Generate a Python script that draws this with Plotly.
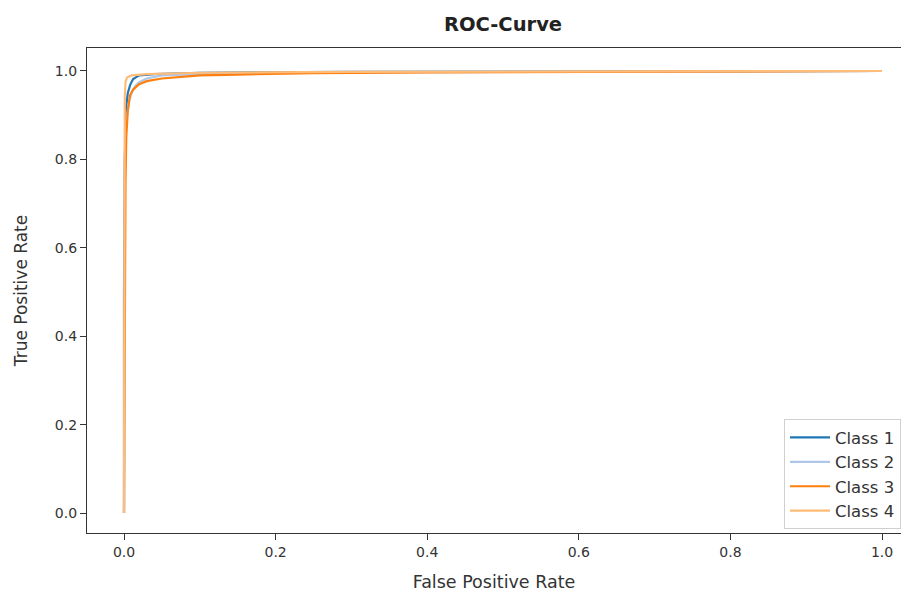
import plotly.graph_objects as go

class_names = ["Class 1", "Class 2", "Class 3", "Class 4"]
colors = ["#1f77b4", "#aec7e8", "#ff7f0e", "#ffbb78"]

fpr_1 = [0, 0.0, 0.001, 0.002, 0.003, 0.005, 0.008, 0.012, 0.02, 0.04, 0.1, 0.3, 0.5, 1.0]
tpr_1 = [0, 0.5, 0.8, 0.88, 0.92, 0.95, 0.968, 0.982, 0.99, 0.993, 0.996, 0.998, 0.999, 1.0]

fpr_2 = [0, 0.0005, 0.001, 0.002, 0.004, 0.007, 0.01, 0.015, 0.02, 0.03, 0.05, 0.1, 0.3, 1.0]
tpr_2 = [0, 0.5, 0.75, 0.85, 0.9, 0.935, 0.95, 0.966, 0.975, 0.983, 0.99, 0.993, 0.997, 1.0]

fpr_3 = [0, 0.001, 0.002, 0.003, 0.005, 0.008, 0.012, 0.02, 0.03, 0.05, 0.075, 0.1, 0.15, 0.25, 0.4, 0.6, 1.0]
tpr_3 = [0, 0.5, 0.75, 0.85, 0.91, 0.945, 0.958, 0.97, 0.977, 0.983, 0.987, 0.99, 0.992, 0.995, 0.997, 0.998, 1.0]

fpr_4 = [0, 0.0003, 0.001, 0.002, 0.004, 0.01, 0.03, 0.1, 0.3, 1.0]
tpr_4 = [0, 0.6, 0.94, 0.975, 0.985, 0.99, 0.993, 0.996, 0.998, 1.0]

fprs = [fpr_1, fpr_2, fpr_3, fpr_4]
tprs = [tpr_1, tpr_2, tpr_3, tpr_4]

x_ticks = [0.0, 0.2, 0.4, 0.6, 0.8, 1.0]
y_ticks = [0.0, 0.2, 0.4, 0.6, 0.8, 1.0]

fig = go.Figure()
for name, c, fx, ty in zip(class_names, colors, fprs, tprs):
    fig.add_trace(go.Scatter(x=fx, y=ty, mode="lines", name=name,
                             line=dict(color=c, width=2.2)))

font = "DejaVu Sans"
W, H = 893, 584
fig.update_layout(
    width=W, height=H,
    paper_bgcolor="white", plot_bgcolor="white",
    margin=dict(l=79, r=0, t=40, b=59, autoexpand=False),
    title=dict(text="<b>ROC-Curve</b>", x=495 / W, xanchor="center", y=1 - 16 / H, yanchor="middle",
               font=dict(family=font, size=19.5, color="#222")),
    font=dict(family=font, size=14, color="#333"),
    showlegend=True,
    legend=dict(x=1.0, y=0.008, xanchor="right", yanchor="bottom",
                bgcolor="white", bordercolor="#d0d0d0", borderwidth=1,
                font=dict(family=font, size=16.5, color="#333"),
                tracegroupgap=0, itemwidth=40),
)
fig.update_xaxes(
    range=[(87 - 124) / 758, (901 - 124) / 758],
    tickvals=x_ticks, ticktext=[f"{v:.1f}" for v in x_ticks],
    ticks="outside", ticklen=6, tickcolor="#333",
    showline=True, linecolor="#333", linewidth=1.2, mirror=True,
    showgrid=False, zeroline=False, automargin=False,
    tickfont=dict(family=font, size=14, color="#333"),
    title=dict(text="False Positive Rate", font=dict(family=font, size=17.5, color="#333"), standoff=31),
)
fig.update_yaxes(
    range=[-0.045, 1.052],
    tickvals=y_ticks, ticktext=[f"{v:.1f}" for v in y_ticks],
    ticks="outside", ticklen=6, tickcolor="#333",
    showline=True, linecolor="#333", linewidth=1.2, mirror=False,
    showgrid=False, zeroline=False, automargin=False,
    tickfont=dict(family=font, size=14, color="#333"),
    title=dict(text="True Positive Rate", font=dict(family=font, size=17, color="#333"), standoff=22),
)
fig.write_html("out.html")
